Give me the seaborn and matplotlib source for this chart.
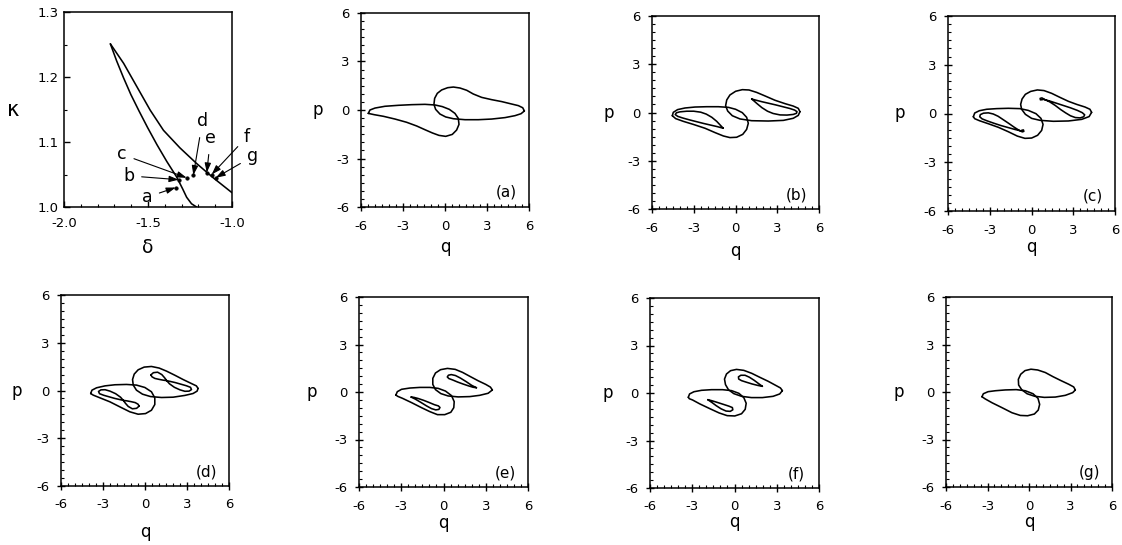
import matplotlib
matplotlib.use("Agg")
import matplotlib.pyplot as plt
from matplotlib.ticker import MultipleLocator, FormatStrFormatter
import seaborn as sns

# ---------------------------------------------------------------------------
# Parameter plane (delta, kappa): the two boundary curves
# ---------------------------------------------------------------------------
upper_delta = [-1.724, -1.645, -1.566, -1.487, -1.408, -1.310, -1.211, -1.112, -1.000]
upper_kappa = [1.251, 1.221, 1.185, 1.149, 1.118, 1.091, 1.067, 1.045, 1.022]

lower_delta = [-1.724, -1.687, -1.646, -1.602, -1.554, -1.502, -1.447, -1.388,
               -1.329, -1.294, -1.270, -1.241, -1.211]
lower_kappa = [1.251, 1.225, 1.199, 1.173, 1.148, 1.122, 1.096, 1.070,
               1.046, 1.028, 1.015, 1.005, 1.000]

# parameter values of the orbits (a)-(g) and where their letters sit
point_names = ["a", "b", "c", "d", "e", "f", "g"]
point_delta = [-1.335, -1.318, -1.270, -1.230, -1.150, -1.121, -1.097]
point_kappa = [1.030, 1.042, 1.045, 1.049, 1.053, 1.050, 1.045]
name_delta = [-1.507, -1.615, -1.655, -1.176, -1.128, -0.911, -0.876]
name_kappa = [1.015, 1.048, 1.081, 1.132, 1.106, 1.108, 1.078]

# ---------------------------------------------------------------------------
# Phase-space orbits (q, p); each list is one closed loop
# ---------------------------------------------------------------------------
orbit_a_right = [(5.67, -0.06), (5.55, 0.14), (5.24, 0.27), (4.76, 0.37), (4.05, 0.52),
                 (3.33, 0.64), (2.62, 0.78), (2.02, 0.99), (1.55, 1.22), (1.07, 1.36),
                 (0.60, 1.42), (0.19, 1.38), (-0.24, 1.24), (-0.55, 1.03), (-0.74, 0.72),
                 (-0.79, 0.35), (-0.67, 0.04), (-0.36, -0.25), (0.05, -0.43), (0.60, -0.54),
                 (1.43, -0.60), (2.38, -0.60), (3.33, -0.56), (4.29, -0.47), (5.00, -0.35),
                 (5.43, -0.23)]
orbit_a_left = [(-5.48, -0.21), (-5.36, 0.00), (-5.00, 0.12), (-4.29, 0.23), (-3.33, 0.29),
                (-2.38, 0.33), (-1.43, 0.35), (-0.71, 0.31), (-0.19, 0.21), (0.31, 0.04),
                (0.71, -0.21), (0.95, -0.52), (1.00, -0.89), (0.83, -1.24), (0.52, -1.51),
                (0.05, -1.63), (-0.43, -1.57), (-0.90, -1.42), (-1.43, -1.22), (-2.02, -0.99),
                (-2.74, -0.76), (-3.57, -0.56), (-4.40, -0.39), (-5.05, -0.29)]

orbit_b_right = [(4.63, 0.05), (4.51, 0.26), (4.15, 0.40), (3.56, 0.55), (2.84, 0.76),
                 (2.12, 1.03), (1.52, 1.25), (0.97, 1.40), (0.49, 1.42), (0.01, 1.32),
                 (-0.40, 1.09), (-0.63, 0.78), (-0.71, 0.42), (-0.56, 0.09), (-0.23, -0.20),
                 (0.32, -0.40), (1.16, -0.51), (2.36, -0.53), (3.44, -0.49), (4.15, -0.36),
                 (4.51, -0.18)]
orbit_b_right_inner = [(1.16, 0.84), (1.50, 0.76), (1.90, 0.67), (2.40, 0.57), (2.90, 0.47),
                       (3.40, 0.36), (3.90, 0.25), (4.25, 0.15), (4.42, 0.05), (4.38, -0.05),
                       (4.15, -0.12), (3.70, -0.16), (3.20, -0.15), (2.70, -0.06), (2.30, 0.08),
                       (1.90, 0.30), (1.55, 0.55), (1.30, 0.74)]
orbit_b_left = [(-4.54, -0.20), (-4.47, 0.01), (-4.16, 0.18), (-3.63, 0.28), (-2.91, 0.34),
                (-2.07, 0.36), (-1.23, 0.36), (-0.51, 0.32), (0.01, 0.20), (0.49, -0.01),
                (0.80, -0.30), (0.92, -0.67), (0.80, -1.05), (0.52, -1.36), (0.08, -1.54),
                (-0.40, -1.56), (-0.87, -1.46), (-1.47, -1.25), (-2.19, -0.98), (-3.03, -0.74),
                (-3.75, -0.55), (-4.30, -0.38)]
orbit_b_left_inner = [(-0.88, -0.98), (-1.30, -0.88), (-1.80, -0.78), (-2.30, -0.68),
                      (-2.80, -0.57), (-3.30, -0.46), (-3.80, -0.34), (-4.15, -0.24),
                      (-4.33, -0.13), (-4.25, -0.02), (-4.00, 0.04), (-3.50, 0.08),
                      (-3.00, 0.08), (-2.50, 0.02), (-2.10, -0.10), (-1.70, -0.30),
                      (-1.35, -0.55), (-1.10, -0.78)]

orbit_c_right = [(4.32, 0.07), (4.20, 0.26), (3.84, 0.40), (3.25, 0.56), (2.65, 0.75),
                 (2.05, 0.99), (1.45, 1.24), (0.90, 1.41), (0.42, 1.45), (-0.06, 1.36),
                 (-0.44, 1.18), (-0.68, 0.89), (-0.78, 0.56), (-0.71, 0.26), (-0.44, -0.05),
                 (0.01, -0.30), (0.61, -0.42), (1.57, -0.48), (2.65, -0.46), (3.61, -0.36),
                 (4.14, -0.19)]
orbit_c_right_inner = [(0.82, 0.88), (1.30, 0.77), (1.80, 0.63), (2.30, 0.49), (2.80, 0.35),
                       (3.30, 0.19), (3.65, 0.05), (3.82, -0.08), (3.75, -0.20), (3.50, -0.27),
                       (3.15, -0.25), (2.80, -0.14), (2.45, 0.04), (2.10, 0.24), (1.70, 0.50),
                       (1.30, 0.72), (0.95, 0.86), (0.75, 0.96), (0.62, 0.93), (0.64, 0.84),
                       (0.78, 0.85)]
orbit_c_left = [(-4.18, -0.20), (-4.08, 0.03), (-3.75, 0.17), (-3.22, 0.26), (-2.50, 0.30),
                (-1.67, 0.32), (-0.83, 0.30), (-0.23, 0.19), (0.32, -0.01), (0.68, -0.30),
                (0.83, -0.67), (0.73, -1.04), (0.44, -1.34), (0.01, -1.51), (-0.47, -1.53),
                (-1.02, -1.39), (-1.67, -1.12), (-2.38, -0.85), (-3.10, -0.63), (-3.75, -0.44),
                (-4.08, -0.32)]
orbit_c_left_inner = [(-0.72, -1.08), (-1.20, -0.98), (-1.70, -0.86), (-2.20, -0.74),
                      (-2.70, -0.60), (-3.20, -0.45), (-3.55, -0.33), (-3.72, -0.20),
                      (-3.68, -0.07), (-3.45, 0.02), (-3.10, 0.04), (-2.75, -0.03),
                      (-2.40, -0.17), (-2.05, -0.37), (-1.65, -0.60), (-1.25, -0.84),
                      (-0.92, -1.02), (-0.66, -1.13), (-0.55, -1.10), (-0.58, -1.01),
                      (-0.70, -1.03)]

orbit_d_right = [(3.79, 0.13), (3.67, 0.29), (3.31, 0.44), (2.72, 0.69), (2.13, 0.96),
                 (1.53, 1.22), (1.01, 1.41), (0.46, 1.51), (-0.06, 1.47), (-0.49, 1.30),
                 (-0.77, 1.03), (-0.89, 0.69), (-0.84, 0.34), (-0.61, 0.02), (-0.18, -0.23),
                 (0.39, -0.38), (1.18, -0.44), (2.01, -0.42), (2.84, -0.31), (3.43, -0.19),
                 (3.72, -0.04)]
orbit_d_right_inner = [(0.42, 0.98), (0.60, 1.12), (0.90, 1.15), (1.20, 1.00), (1.40, 0.80),
                       (1.55, 0.62), (1.75, 0.42), (2.10, 0.20), (2.50, 0.04), (2.85, -0.05),
                       (3.15, -0.04), (3.32, 0.06), (3.25, 0.20), (2.95, 0.30), (2.55, 0.40),
                       (2.15, 0.50), (1.80, 0.57), (1.55, 0.62), (1.30, 0.65), (1.00, 0.70),
                       (0.70, 0.76), (0.50, 0.86)]
orbit_d_left = [(-3.88, -0.19), (-3.79, 0.02), (-3.46, 0.17), (-2.86, 0.29), (-2.15, 0.36),
                (-1.32, 0.38), (-0.61, 0.34), (-0.01, 0.19), (0.46, -0.08), (0.70, -0.46),
                (0.70, -0.88), (0.46, -1.24), (0.04, -1.45), (-0.49, -1.49), (-1.08, -1.34),
                (-1.79, -1.03), (-2.51, -0.71), (-3.22, -0.46), (-3.70, -0.29)]
orbit_d_left_inner = [(-0.42, -0.98), (-0.60, -1.12), (-0.90, -1.15), (-1.20, -1.00),
                      (-1.40, -0.80), (-1.55, -0.62), (-1.75, -0.42), (-2.10, -0.20),
                      (-2.50, -0.04), (-2.85, 0.05), (-3.15, 0.04), (-3.32, -0.06),
                      (-3.25, -0.20), (-2.95, -0.30), (-2.55, -0.40), (-2.15, -0.50),
                      (-1.80, -0.57), (-1.55, -0.62), (-1.30, -0.65), (-1.00, -0.70),
                      (-0.70, -0.76), (-0.50, -0.86)]

orbit_e_right = [(3.47, 0.13), (3.33, 0.31), (3.00, 0.48), (2.46, 0.71), (1.87, 0.99),
                 (1.35, 1.24), (0.83, 1.43), (0.28, 1.49), (-0.21, 1.41), (-0.57, 1.20),
                 (-0.76, 0.86), (-0.76, 0.48), (-0.57, 0.15), (-0.19, -0.10), (0.33, -0.25),
                 (1.04, -0.31), (1.87, -0.29), (2.57, -0.21), (3.17, -0.08)]
orbit_e_right_inner = [(2.34, 0.27), (2.00, 0.42), (1.60, 0.66), (1.20, 0.88), (0.85, 1.04),
                       (0.55, 1.10), (0.35, 1.06), (0.27, 0.95), (0.38, 0.85), (0.65, 0.76),
                       (1.00, 0.63), (1.40, 0.50), (1.80, 0.38), (2.10, 0.30)]
orbit_e_left = [(-3.38, -0.19), (-3.28, 0.02), (-2.98, 0.17), (-2.39, 0.25), (-1.68, 0.29),
                (-0.97, 0.29), (-0.38, 0.23), (0.14, 0.06), (0.57, -0.23), (0.76, -0.61),
                (0.73, -0.99), (0.52, -1.28), (0.09, -1.43), (-0.43, -1.43), (-0.97, -1.24),
                (-1.56, -0.99), (-2.27, -0.67), (-2.91, -0.40), (-3.26, -0.27)]
orbit_e_left_inner = [(-2.30, -0.32), (-2.00, -0.45), (-1.60, -0.66), (-1.20, -0.88),
                      (-0.85, -1.05), (-0.55, -1.13), (-0.33, -1.10), (-0.25, -0.98),
                      (-0.36, -0.88), (-0.65, -0.80), (-1.00, -0.67), (-1.40, -0.53),
                      (-1.80, -0.41), (-2.10, -0.34)]

orbit_f_right = [(3.40, 0.15), (3.26, 0.32), (2.93, 0.48), (2.39, 0.74), (1.80, 0.99),
                 (1.23, 1.24), (0.66, 1.43), (0.14, 1.49), (-0.28, 1.41), (-0.57, 1.20),
                 (-0.71, 0.88), (-0.64, 0.53), (-0.43, 0.21), (-0.05, -0.04), (0.50, -0.21),
                 (1.20, -0.29), (1.98, -0.29), (2.74, -0.21), (3.21, -0.06)]
orbit_f_right_inner = [(1.98, 0.42), (1.70, 0.60), (1.40, 0.80), (1.05, 1.00), (0.75, 1.12),
                       (0.45, 1.12), (0.28, 1.02), (0.30, 0.88), (0.50, 0.78), (0.85, 0.68),
                       (1.25, 0.57), (1.65, 0.48)]
orbit_f_left = [(-3.28, -0.27), (-3.19, -0.06), (-2.88, 0.08), (-2.34, 0.17), (-1.63, 0.21),
                (-0.85, 0.21), (-0.21, 0.15), (0.31, -0.02), (0.66, -0.29), (0.83, -0.65),
                (0.76, -1.03), (0.50, -1.31), (0.02, -1.45), (-0.52, -1.43), (-1.09, -1.26),
                (-1.75, -0.99), (-2.46, -0.69), (-2.98, -0.44), (-3.21, -0.36)]
orbit_f_left_inner = [(-1.90, -0.42), (-1.60, -0.60), (-1.30, -0.80), (-0.95, -1.00),
                      (-0.60, -1.14), (-0.30, -1.16), (-0.12, -1.06), (-0.15, -0.92),
                      (-0.40, -0.83), (-0.78, -0.72), (-1.20, -0.60), (-1.60, -0.49)]

orbit_g_right = [(3.35, 0.13), (3.23, 0.32), (2.87, 0.49), (2.31, 0.72), (1.73, 0.97),
                 (1.18, 1.23), (0.63, 1.39), (0.14, 1.44), (-0.29, 1.35), (-0.60, 1.12),
                 (-0.77, 0.80), (-0.75, 0.44), (-0.53, 0.15), (-0.14, -0.11), (0.41, -0.27),
                 (1.11, -0.34), (1.90, -0.32), (2.63, -0.21), (3.16, -0.04)]
orbit_g_left = [(-3.40, -0.30), (-3.30, -0.11), (-2.96, 0.02), (-2.43, 0.08), (-1.71, 0.13),
                (-0.92, 0.15), (-0.27, 0.08), (0.29, -0.11), (0.65, -0.40), (0.77, -0.78),
                (0.67, -1.14), (0.39, -1.39), (-0.10, -1.50), (-0.63, -1.48), (-1.23, -1.31),
                (-1.95, -0.99), (-2.67, -0.68), (-3.16, -0.44)]

panel_orbits = {
    "a": [orbit_a_right, orbit_a_left],
    "b": [orbit_b_right, orbit_b_right_inner, orbit_b_left, orbit_b_left_inner],
    "c": [orbit_c_right, orbit_c_right_inner, orbit_c_left, orbit_c_left_inner],
    "d": [orbit_d_right, orbit_d_right_inner, orbit_d_left, orbit_d_left_inner],
    "e": [orbit_e_right, orbit_e_right_inner, orbit_e_left, orbit_e_left_inner],
    "f": [orbit_f_right, orbit_f_right_inner, orbit_f_left, orbit_f_left_inner],
    "g": [orbit_g_right, orbit_g_left],
}

q_ticks = [-6, -3, 0, 3, 6]
p_ticks = [-6, -3, 0, 3, 6]

# ---------------------------------------------------------------------------
# Layout (pixel boxes: left, top, right, bottom) and label offsets in pixels
# ---------------------------------------------------------------------------
W, H = 1122, 545
boxes = {
    "map": (64, 12, 232, 207),
    "a": (361, 13, 529, 207),
    "b": (652, 16, 819, 209),
    "c": (948, 16, 1115, 211),
    "d": (61, 295, 229, 486),
    "e": (359, 297, 528, 487),
    "f": (650, 298, 819, 488),
    "g": (946, 297, 1112, 487),
}
ylabel_off = {"a": 43, "b": 43, "c": 48, "d": 44, "e": 47, "f": 42, "g": 47}
xlabel_off = {"a": 40, "b": 42, "c": 36, "d": 46, "e": 36, "f": 34, "g": 35}

sns.set_theme(style="ticks")
plt.rcParams.update({
    "font.family": ["DejaVu Sans"],
    "axes.unicode_minus": False,
    "axes.edgecolor": "black",
    "axes.linewidth": 1.1,
    "lines.solid_joinstyle": "round",
    "lines.solid_capstyle": "round",
    "xtick.color": "black",
    "ytick.color": "black",
    "text.color": "black",
    "axes.labelcolor": "black",
})

fig = plt.figure(figsize=(W / 100, H / 100), dpi=100, facecolor="white")


def add_box(key):
    l, t, r, b = boxes[key]
    return fig.add_axes([l / W, 1 - b / H, (r - l) / W, (b - t) / H])


def closed(points):
    q = [pt[0] for pt in points] + [points[0][0]]
    p = [pt[1] for pt in points] + [points[0][1]]
    return q, p


# ---- parameter plane ------------------------------------------------------
ax0 = add_box("map")
for dx, ky in ((upper_delta, upper_kappa), (lower_delta, lower_kappa)):
    sns.lineplot(x=dx, y=ky, sort=False, estimator=None, color="black",
                 lw=1.15, ax=ax0)
sns.scatterplot(x=point_delta, y=point_kappa, color="black", s=7,
                edgecolor="black", linewidth=0.3, ax=ax0, zorder=4)
for name, xd, yk, tx, ty in zip(point_names, point_delta, point_kappa,
                                name_delta, name_kappa):
    ax0.annotate(name, xy=(xd, yk), xytext=(tx, ty), fontsize=12.5,
                 ha="center", va="center", annotation_clip=False,
                 arrowprops=dict(arrowstyle="-|>,head_length=0.45,head_width=0.15",
                                 lw=0.8, color="black", shrinkA=3, shrinkB=0))
ax0.set_xlim(-2.0, -1.0)
ax0.set_ylim(1.0, 1.3)
ax0.set_xticks([-2.0, -1.5, -1.0])
ax0.set_yticks([1.0, 1.1, 1.2, 1.3])
ax0.xaxis.set_major_formatter(FormatStrFormatter("%.1f"))
ax0.yaxis.set_major_formatter(FormatStrFormatter("%.1f"))
ax0.xaxis.set_minor_locator(MultipleLocator(0.1))
ax0.yaxis.set_minor_locator(MultipleLocator(0.05))
ax0.tick_params(which="major", direction="in", length=4, width=1.0,
                labelsize=9.5, pad=4)
ax0.tick_params(axis="x", which="major", pad=7)
ax0.tick_params(which="minor", direction="in", length=2, width=0.8)
ax0.set_xlabel("δ", fontsize=13.5)
ax0.set_ylabel("κ", fontsize=15, rotation=0, ha="center", va="center")
ax0.yaxis.set_label_coords(-51 / 168, 0.5)
ax0.xaxis.set_label_coords(0.5, -40 / 195)
ax0.xaxis.label.set_va("center")
for s in ax0.spines.values():
    s.set_visible(True)

# ---- phase portraits ------------------------------------------------------
for key, loops in panel_orbits.items():
    ax = add_box(key)
    l, t, r, b = boxes[key]
    for loop in loops:
        q, p = closed(loop)
        sns.lineplot(x=q, y=p, sort=False, estimator=None, color="black",
                     lw=1.15, ax=ax)
    ax.set_xlim(-6, 6)
    ax.set_ylim(-6, 6)
    ax.set_xticks(q_ticks)
    ax.set_yticks(p_ticks)
    ax.xaxis.set_minor_locator(MultipleLocator(0.5))
    ax.yaxis.set_minor_locator(MultipleLocator(0.5))
    ax.tick_params(which="major", direction="inout", length=6, width=1.0,
                   labelsize=9.5, pad=5)
    ax.tick_params(axis="x", which="major", pad=6)
    ax.tick_params(which="minor", direction="in", length=2.5, width=0.8)
    ax.set_xlabel("q", fontsize=12)
    ax.set_ylabel("p", fontsize=12, rotation=0, ha="center", va="center")
    ax.yaxis.set_label_coords(-ylabel_off[key] / (r - l), 0.5)
    ax.xaxis.set_label_coords(0.5, -xlabel_off[key] / (b - t))
    ax.xaxis.label.set_va("center")
    ax.text(0.865, 0.075, f"({key})", transform=ax.transAxes, fontsize=11,
            ha="center", va="center")

fig.savefig("out.png", dpi=100, facecolor="white")
